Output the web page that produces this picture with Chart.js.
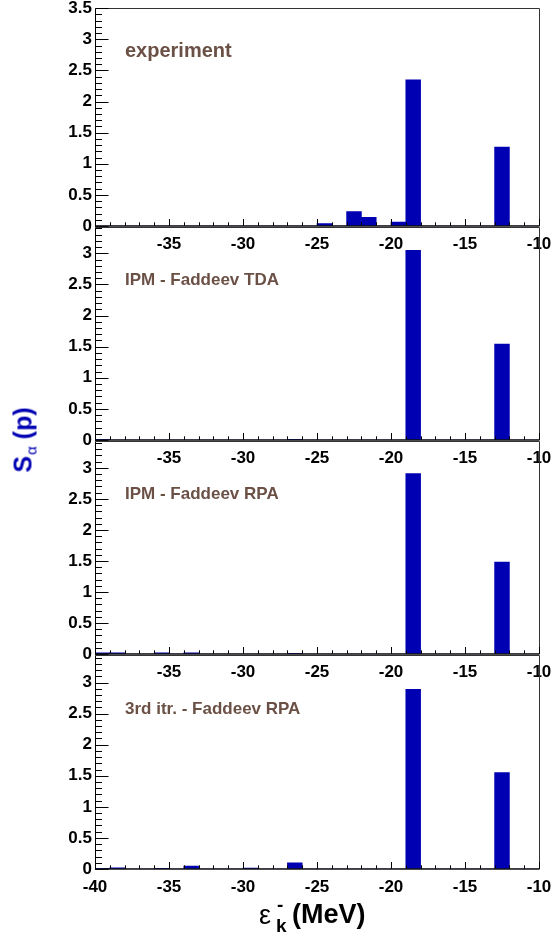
<!DOCTYPE html>
<html>
<head>
<meta charset="utf-8">
<script src="https://cdn.jsdelivr.net/npm/chart.js@4/dist/chart.umd.min.js"></script>
<style>
html,body{margin:0;padding:0;background:#fff;}
#wrap{position:relative;width:553px;height:942px;overflow:hidden;font-family:"Liberation Sans",Arial,sans-serif;}
canvas{position:absolute;left:0;}
.lab{position:absolute;left:125px;font-weight:bold;color:#6b5046;line-height:1;white-space:nowrap;}
.ytitle{position:absolute;left:23px;top:440px;transform:translate(-50%,-50%) rotate(-90deg);color:#0000b3;font-weight:bold;font-size:25px;line-height:1;white-space:nowrap;}
.ytitle .a{font-weight:normal;font-size:15px;position:relative;top:5px;margin-left:1px;}
.xt{position:absolute;line-height:1;white-space:nowrap;color:#000;}
</style>
</head>
<body>
<div id="wrap">
  <canvas id="c1"></canvas>
  <canvas id="c2"></canvas>
  <canvas id="c3"></canvas>
  <canvas id="c4"></canvas>
  <div class="lab" style="top:40px;font-size:20px;">experiment</div>
  <div class="lab" style="top:271px;font-size:17px;">IPM - Faddeev TDA</div>
  <div class="lab" style="top:485px;font-size:17px;">IPM - Faddeev RPA</div>
  <div class="lab" style="top:700px;font-size:17px;">3rd itr. - Faddeev RPA</div>
  <div class="ytitle">S<span class="a">α</span> (p)</div>
  <div class="xt" style="left:259px;top:902px;font-size:27px;">ε</div>
  <div class="xt" style="left:276px;top:916px;font-size:19px;font-weight:bold;">k</div>
  <div class="xt" style="left:277px;top:895px;font-size:19px;font-weight:bold;">-</div>
  <div class="xt" style="left:292px;top:901px;font-size:27px;font-weight:bold;">(MeV)</div>
</div>
<script>
// 1 MeV bins from -40 to -10
const BIN_CENTERS = [-39.5,-38.5,-37.5,-36.5,-35.5,-34.5,-33.5,-32.5,-31.5,-30.5,
                     -29.5,-28.5,-27.5,-26.5,-25.5,-24.5,-23.5,-22.5,-21.5,-20.5,
                     -19.5,-18.5,-17.5,-16.5,-15.5,-14.5,-13.5,-12.5,-11.5,-10.5];

const S_EXP = [0,0,0,0,0,0,0,0,0,0,
               0,0,0,0,0,0.04,0,0.23,0.14,0,
               0.065,2.35,0,0,0,0,0,1.27,0,0];
const S_TDA = [0.01,0,0,0,0,0,0,0,0,0,
               0,0,0,0.01,0,0,0,0,0,0,
               0,3.05,0,0,0,0,0,1.54,0,0];
const S_RPA = [0.02,0.02,0,0,0.02,0,0.02,0,0,0,
               0,0,0,0.01,0,0,0,0,0,0,
               0,2.91,0,0,0,0,0,1.48,0,0];
const S_ITR3 = [0.01,0.02,0,0,0.01,0,0.045,0,0,0,
                0.015,0,0,0.1,0,0,0,0,0,0,
                0,2.89,0,0,0,0,0,1.55,0,0];

const BLUE = "#0000b3";
const FONT = { family:"'Liberation Sans', Arial, sans-serif", size:17, weight:"bold" };
const PAD_TOP = 12, XH = 34, YW = 95;

const framePlugin = {
  id:"frame",
  afterDatasetsDraw(chart){
    const { ctx, chartArea:a, scales:{ x, y } } = chart;
    const L = Math.round(a.left)+0.5, R = Math.round(a.right)+0.5;
    const T = Math.round(a.top)+0.5, B = Math.round(a.bottom);
    ctx.save();
    ctx.lineWidth = 1;
    ctx.strokeStyle = "#333";
    ctx.beginPath();
    ctx.moveTo(L, T); ctx.lineTo(R, T); ctx.lineTo(R, B);
    ctx.stroke();
    ctx.strokeStyle = "#000";
    ctx.beginPath();
    ctx.moveTo(L, T); ctx.lineTo(L, B+1);
    // y ticks, inward
    for(let k=0; k/10 <= y.max + 1e-9; k++){
      const py = Math.round(y.getPixelForValue(k/10))+0.5;
      const len = k%5===0 ? 13 : 6.5;
      ctx.moveTo(L, py); ctx.lineTo(L+len, py);
    }
    // x ticks, upward
    for(let m=-40; m<=-10; m++){
      const px = Math.round(x.getPixelForValue(m))+0.5;
      const len = m%5===0 ? 7 : 3.7;
      ctx.moveTo(px, B); ctx.lineTo(px, B-len);
    }
    ctx.stroke();
    ctx.lineWidth = 1.6;
    ctx.strokeStyle = "#111";
    ctx.beginPath();
    ctx.moveTo(L, B); ctx.lineTo(R, B);
    ctx.stroke();
    ctx.restore();
  }
};

function panel(id, values, yMax, top, bottom, showFirst){
  const cv = document.getElementById(id);
  cv.width = 553;
  cv.height = bottom - top + PAD_TOP + XH;
  cv.style.top = (top - PAD_TOP) + "px";
  new Chart(cv, {
    type:"bar",
    data:{ datasets:[{
      data: BIN_CENTERS.map((x,i)=>({ x, y: values[i] })),
      backgroundColor: BLUE, borderWidth:0,
      barPercentage:1, categoryPercentage:1
    }]},
    options:{
      responsive:false, animation:false, devicePixelRatio:1,
      layout:{ padding:{ top:PAD_TOP, right:14, left:0, bottom:0 } },
      plugins:{ legend:{ display:false }, tooltip:{ enabled:false } },
      scales:{
        x:{ type:"linear", min:-40, max:-10, offset:false,
            grid:{ display:false, drawTicks:false }, border:{ display:false },
            ticks:{ stepSize:5, padding:8, font:FONT, color:"#000", maxRotation:0, autoSkip:false,
                    callback:(v)=> (v===-40 && !showFirst) ? "" : String(v) },
            afterFit:(s)=>{ s.height = XH; s.paddingLeft = 0; s.paddingRight = 0; } },
        y:{ type:"linear", min:0, max:yMax,
            grid:{ display:false, drawTicks:false }, border:{ display:false },
            ticks:{ stepSize:0.5, includeBounds:false, padding:3, font:FONT, color:"#000",
                    callback:(v)=> String(Math.round(v*10)/10) },
            afterFit:(s)=>{ s.width = YW; } }
      }
    },
    plugins:[framePlugin]
  });
}

panel("c1", S_EXP, 3.5, 7, 226, false);
panel("c2", S_TDA, 3.42, 226, 440, false);
panel("c3", S_RPA, 3.43, 440, 654, false);
panel("c4", S_ITR3, 3.44, 654, 869, true);
</script>
</body>
</html>
